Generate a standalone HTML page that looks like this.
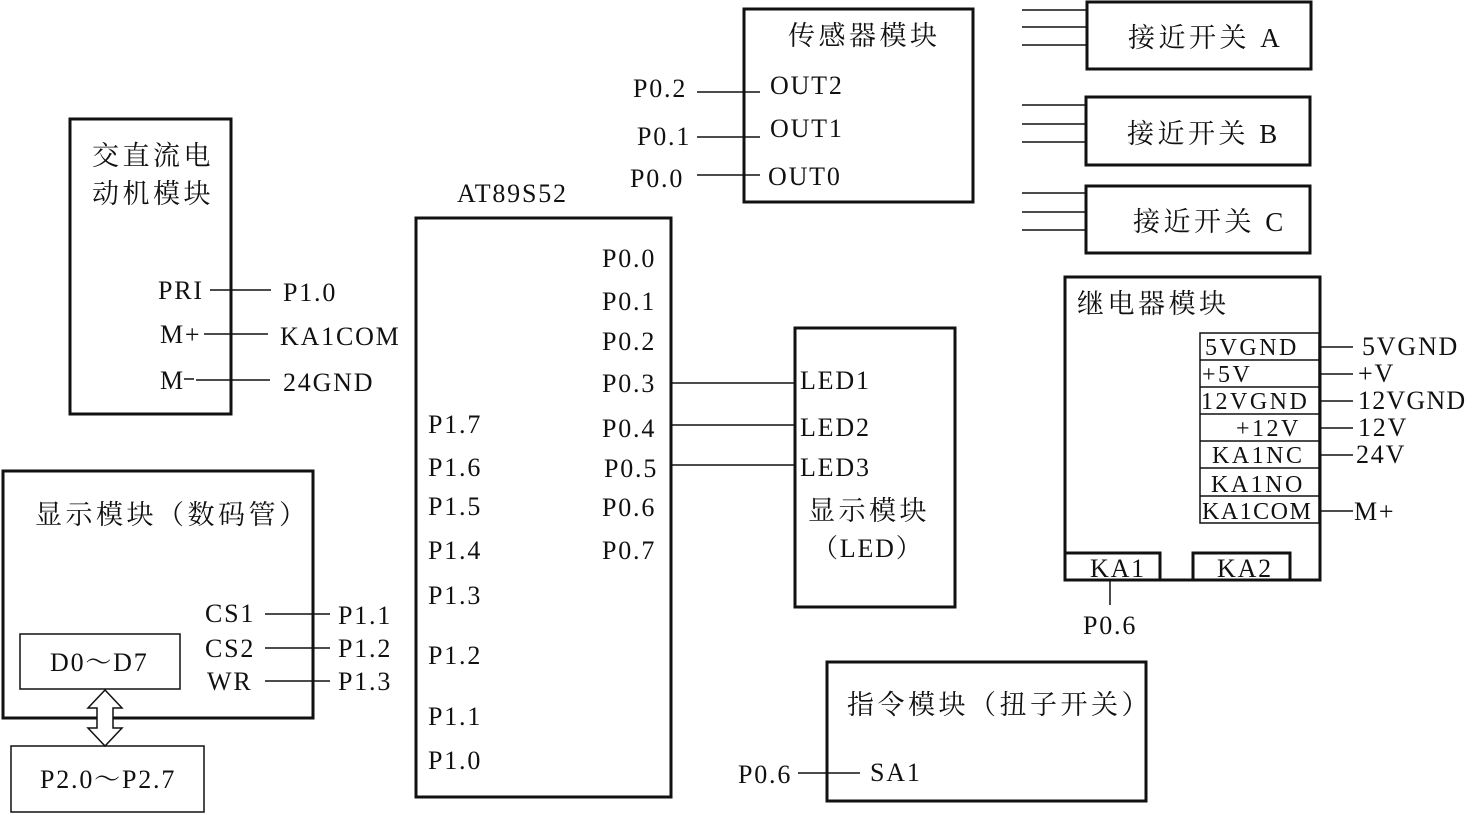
<!DOCTYPE html>
<html><head><meta charset="utf-8"><style>
html,body{margin:0;padding:0;background:#fff;}
svg{display:block}
text{font-family:"Liberation Serif","Noto Serif CJK SC",serif;font-size:26px;fill:#111;letter-spacing:1.8px}
.c{font-size:27px;letter-spacing:3.5px}
.t{font-size:24px;letter-spacing:2.5px}
</style></head><body>
<svg width="1474" height="814" viewBox="0 0 1474 814" xmlns="http://www.w3.org/2000/svg">
<g fill="none" stroke="#111" stroke-width="3">
<rect x="70" y="119" width="161" height="295"/>
<rect x="3" y="471" width="310" height="247"/>
<rect x="416" y="218" width="255" height="579"/>
<rect x="744" y="9" width="229" height="193"/>
<rect x="1087" y="2" width="224" height="67"/>
<rect x="1086" y="97" width="224" height="68"/>
<rect x="1086" y="186" width="224" height="67"/>
<rect x="795" y="328" width="160" height="279"/>
<rect x="1065" y="277" width="255" height="303"/>
<rect x="1065" y="553" width="95" height="27"/>
<rect x="1193" y="553" width="97" height="27"/>
<rect x="827" y="662" width="319" height="139"/>
</g>
<g fill="none" stroke="#111" stroke-width="1.5">
<rect x="20" y="634" width="160" height="55"/>
<rect x="11" y="746" width="193" height="66"/>
<rect x="1200" y="333" width="119" height="190"/>
<path d="M1200 360H1319M1200 387H1319M1200 414H1319M1200 441H1319M1200 468H1319M1200 496H1319"/>
<path d="M210 290H271M204 334H268M196 380H270"/>
<path d="M265 614H330M265 648H330M265 681H330"/>
<path d="M697 92H760M697 137H760M697 175H760"/>
<path d="M1022 10H1087M1022 27H1087M1022 45H1087M1022 105H1086M1022 124H1086M1022 142H1086M1022 193H1086M1022 212H1086M1022 230H1086"/>
<path d="M671 383H795M671 425H795M671 465H795"/>
<path d="M1320 347H1353M1320 374H1353M1320 401H1353M1320 428H1353M1320 455H1353M1320 511H1353"/>
<path d="M1110 580V605M798 773H860"/>
<path d="M105 690L88 708H97V728H88L105 746L122 728H113V708H122Z" fill="#fff"/>
<path d="M184 379H194"/>
</g>
<g>
<text x="92" y="165" class="c">交直流电</text>
<text x="92" y="203" class="c">动机模块</text>
<text x="158" y="299">PRI</text><text x="283" y="301">P1.0</text>
<text x="160" y="343">M+</text><text x="280" y="345">KA1COM</text>
<text x="160" y="389">M</text><text x="283" y="391">24GND</text>
<text x="35" y="524" class="c">显示模块（数码管）</text>
<text x="205" y="622">CS1</text><text x="338" y="624">P1.1</text>
<text x="205" y="657">CS2</text><text x="338" y="657">P1.2</text>
<text x="207" y="690">WR</text><text x="338" y="690">P1.3</text>
<text x="50" y="671">D0～D7</text>
<text x="40" y="788">P2.0～P2.7</text>
<text x="457" y="202">AT89S52</text>
<text x="602" y="267">P0.0</text><text x="602" y="310">P0.1</text><text x="602" y="350">P0.2</text>
<text x="602" y="392">P0.3</text><text x="602" y="437">P0.4</text><text x="604" y="477">P0.5</text>
<text x="602" y="516">P0.6</text><text x="602" y="559">P0.7</text>
<text x="428" y="433">P1.7</text><text x="428" y="476">P1.6</text><text x="428" y="515">P1.5</text>
<text x="428" y="559">P1.4</text><text x="428" y="604">P1.3</text><text x="428" y="664">P1.2</text>
<text x="428" y="725">P1.1</text><text x="428" y="769">P1.0</text>
<text x="788" y="45" class="c">传感器模块</text>
<text x="770" y="94">OUT2</text><text x="633" y="97">P0.2</text>
<text x="770" y="137">OUT1</text><text x="637" y="145">P0.1</text>
<text x="768" y="185">OUT0</text><text x="630" y="187">P0.0</text>
<text x="1128" y="47" class="c">接近开关 A</text>
<text x="1127" y="143" class="c">接近开关 B</text>
<text x="1133" y="231" class="c">接近开关 C</text>
<text x="800" y="389">LED1</text><text x="800" y="436">LED2</text><text x="800" y="476">LED3</text>
<text x="808" y="520" class="c">显示模块</text>
<text x="812" y="557">（LED）</text>
<text x="1077" y="313" class="c">继电器模块</text>
<text x="1205" y="355" class="t">5VGND</text>
<text x="1202" y="382" class="t">+5V</text>
<text x="1201" y="409" class="t">12VGND</text>
<text x="1236" y="436" class="t">+12V</text>
<text x="1212" y="463" class="t">KA1NC</text>
<text x="1211" y="492" class="t">KA1NO</text>
<text x="1202" y="519" class="t" style="letter-spacing:1.5px">KA1COM</text>
<text x="1362" y="355">5VGND</text><text x="1358" y="382">+V</text>
<text x="1358" y="409" style="letter-spacing:1.2px">12VGND</text><text x="1358" y="436">12V</text>
<text x="1356" y="463">24V</text><text x="1354" y="520">M+</text>
<text x="1090" y="577">KA1</text><text x="1217" y="577">KA2</text>
<text x="1083" y="634">P0.6</text>
<text x="847" y="714" class="c">指令模块（扭子开关）</text>
<text x="870" y="781">SA1</text><text x="738" y="783">P0.6</text>
</g>
</svg>
</body></html>
